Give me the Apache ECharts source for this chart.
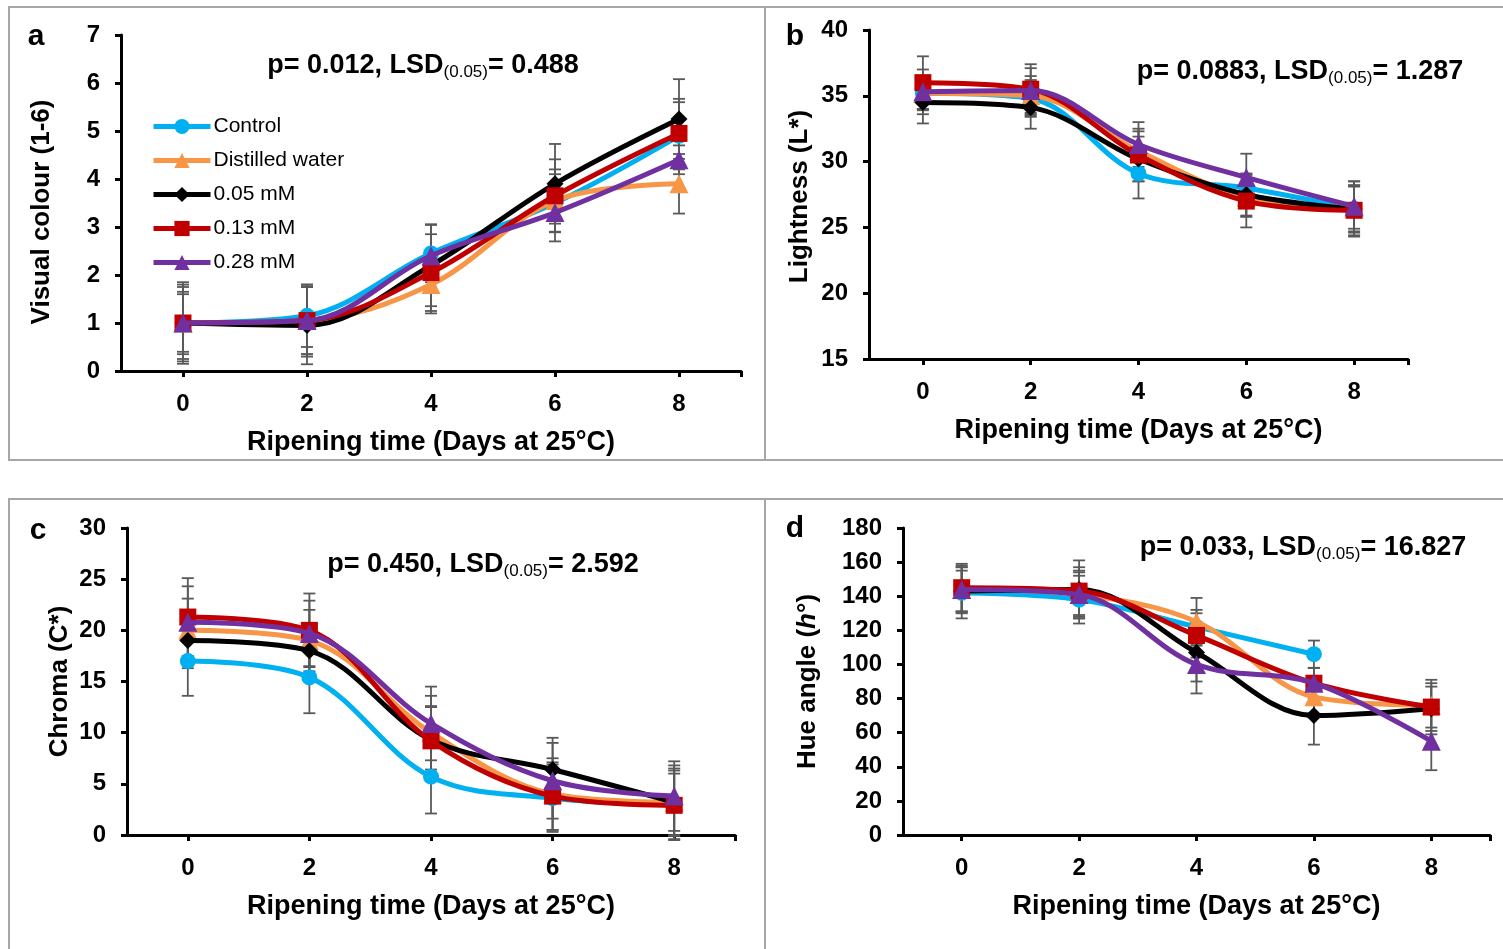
<!DOCTYPE html>
<html>
<head>
<meta charset="utf-8">
<script src="https://cdn.jsdelivr.net/npm/echarts@6/dist/echarts.min.js"></script>
<style>
  html, body { margin: 0; padding: 0; background: #ffffff; }
  #chart { width: 1503px; height: 949px; }
</style>
</head>
<body>
<div id="chart"></div>
<script>
// Ripening days (x positions) and treatment names
const days = [0, 2, 4, 6, 8];
const treatments = ['Control', 'Distilled water', '0.05 mM', '0.13 mM', '0.28 mM'];

// (a) Visual colour score (1-6): means and error half-widths
const colourControl = [1.0, 1.15, 2.45, 3.5, 4.9];
const colourWater   = [1.0, 1.05, 1.8, 3.55, 3.9];
const colour005     = [1.0, 0.95, 2.2, 3.9, 5.25];
const colour013     = [1.0, 1.05, 2.05, 3.65, 4.95];
const colour028     = [1.0, 1.05, 2.4, 3.3, 4.4];
const colourErrControl = [0.8, 0.65, 0.6, 0.6, 0.7];
const colourErrWater   = [0.85, 0.7, 0.6, 0.65, 0.62];
const colourErr005     = [0.6, 0.81, 0.85, 0.83, 0.83];
const colourErr013     = [0.65, 0.7, 0.8, 0.76, 0.72];
const colourErr028     = [0.75, 0.75, 0.65, 0.6, 0.3];

// (b) Lightness L*
const lightControl = [35.2, 34.8, 29.1, 28.0, 26.4];
const lightWater   = [35.2, 35.0, 30.8, 27.3, 26.5];
const light005     = [34.5, 34.1, 30.2, 27.5, 26.4];
const light013     = [36.0, 35.5, 30.5, 27.0, 26.3];
const light028     = [35.3, 35.4, 31.3, 28.8, 26.6];
const lightErrControl = [1.2, 1.4, 1.9, 1.0, 1.8];
const lightErrWater   = [1.3, 1.5, 1.5, 1.5, 1.6];
const lightErr005     = [1.6, 1.6, 1.7, 1.6, 2.1];
const lightErr013     = [2.0, 1.9, 2.0, 2.0, 1.9];
const lightErr028     = [1.7, 1.7, 1.7, 1.8, 1.9];

// (c) Chroma C*
const chromaControl = [17.0, 15.4, 5.7, 3.6, 3.0];
const chromaWater   = [20.0, 19.0, 10.0, 4.0, 3.2];
const chroma005     = [19.0, 18.0, 9.3, 6.4, 3.2];
const chroma013     = [21.3, 20.0, 9.2, 3.8, 2.9];
const chroma028     = [20.8, 19.7, 10.9, 5.3, 3.8];
const chromaErrControl = [3.4, 3.5, 3.6, 3.3, 3.0];
const chromaErrWater   = [3.1, 3.0, 3.6, 3.5, 3.3];
const chromaErr005     = [2.7, 2.5, 3.2, 3.1, 3.6];
const chromaErr013     = [3.8, 3.6, 3.4, 3.3, 3.4];
const chromaErr028     = [3.5, 3.2, 3.6, 3.7, 3.4];

// (d) Hue angle h°
const hueControl = [142, 138, 122, 106, null];
const hueWater   = [144, 141, 125, 81, 76];
const hue005     = [143, 144, 107, 70, 74];
const hue013     = [145, 143, 117, 89, 75];
const hue028     = [144, 141, 100, 89, 55];
const hueErrControl = [15, 14, 10, 8, null];
const hueErrWater   = [14, 14, 14, 10, 13];
const hueErr005     = [12, 17, 17, 17, 13];
const hueErr013     = [14, 14, 13, 9, 16];
const hueErr028     = [13, 13, 17, 9, 17];

// Panel statistics text
const statsA = ['0.012', '0.488'];
const statsB = ['0.0883', '1.287'];
const statsC = ['0.450', '2.592'];
const statsD = ['0.033', '16.827'];

const FONT = '"Liberation Sans", Arial, sans-serif';
const styles = [
  { color: '#00B0F0', symbol: 'circle',   size: 16 },
  { color: '#F79646', symbol: 'triangle', size: 19 },
  { color: '#000000', symbol: 'diamond',  size: 17 },
  { color: '#C00000', symbol: 'rect',     size: 17 },
  { color: '#7030A0', symbol: 'triangle', size: 19 }
];

const panels = [
  { letter: 'a', means: [colourControl, colourWater, colour005, colour013, colour028],
    errs: [colourErrControl, colourErrWater, colourErr005, colourErr013, colourErr028],
    grid: { left: 121, top: 35, width: 620, height: 336 },
    y: { min: 0, max: 7, interval: 1 }, yName: 'Visual colour (1-6)', yNameGap: 66, yNameShift: 18,
    stats: statsA, statsPos: [423, 66], letterPos: [36, 37] },
  { letter: 'b', means: [lightControl, lightWater, light005, light013, light028],
    errs: [lightErrControl, lightErrWater, lightErr005, lightErr013, lightErr028],
    grid: { left: 869, top: 30, width: 539, height: 329 },
    y: { min: 15, max: 40, interval: 5 }, yName: 'Lightness (L*)', yNameGap: 56, yNameShift: 4,
    stats: statsB, statsPos: [1300, 72], letterPos: [795, 37] },
  { letter: 'c', means: [chromaControl, chromaWater, chroma005, chroma013, chroma028],
    errs: [chromaErrControl, chromaErrWater, chromaErr005, chromaErr013, chromaErr028],
    grid: { left: 127, top: 528, width: 608, height: 307 },
    y: { min: 0, max: 30, interval: 5 }, yName: 'Chroma (C*)', yNameGap: 54, yNameShift: 0,
    stats: statsC, statsPos: [483, 565], letterPos: [38, 531] },
  { letter: 'd', means: [hueControl, hueWater, hue005, hue013, hue028],
    errs: [hueErrControl, hueErrWater, hueErr005, hueErr013, hueErr028],
    grid: { left: 903, top: 528, width: 587, height: 307 },
    y: { min: 0, max: 180, interval: 20 }, yName: '{b|Hue angle (}{i|h}{b|°)}', yNameGap: 82, yNameShift: 0,
    stats: statsD, statsPos: [1303, 548], letterPos: [795, 529] }
];

function errorBar(params, api) {
  const x = api.value(0);
  const top = api.coord([x, api.value(2)]);
  const bot = api.coord([x, api.value(1)]);
  const w = 6;
  const st = { stroke: '#595959', lineWidth: 1.8 };
  return {
    type: 'group',
    children: [
      { type: 'line', shape: { x1: top[0], y1: top[1], x2: bot[0], y2: bot[1] }, style: st },
      { type: 'line', shape: { x1: top[0] - w, y1: top[1], x2: top[0] + w, y2: top[1] }, style: st },
      { type: 'line', shape: { x1: bot[0] - w, y1: bot[1], x2: bot[0] + w, y2: bot[1] }, style: st }
    ]
  };
}

const grids = [], xAxes = [], yAxes = [], series = [], graphics = [];

panels.forEach((p, gi) => {
  grids.push(p.grid);
  xAxes.push({
    type: 'value', gridIndex: gi, min: -1, max: 9,
    axisLine: { show: true, onZero: false, lineStyle: { color: '#000', width: 3 } },
    axisTick: { show: true, length: 6, lineStyle: { color: '#000', width: 3 }, customValues: [0, 2, 4, 6, 8, 9] },
    axisLabel: { customValues: days, margin: 21, color: '#000', fontSize: 24, fontWeight: 'bold', fontFamily: FONT },
    splitLine: { show: false },
    name: 'Ripening time (Days at 25°C)', nameLocation: 'middle', nameGap: 58,
    nameTextStyle: { color: '#000', fontSize: 27, fontWeight: 'bold', fontFamily: FONT }
  });
  yAxes.push({
    type: 'value', gridIndex: gi, min: p.y.min, max: p.y.max, interval: p.y.interval,
    axisLine: { show: true, onZero: false, lineStyle: { color: '#000', width: 3 } },
    axisTick: { show: true, length: 6, lineStyle: { color: '#000', width: 3 } },
    axisLabel: { margin: 21, color: '#000', fontSize: 24, fontWeight: 'bold', fontFamily: FONT },
    splitLine: { show: false },
    name: p.yName, nameLocation: 'middle', nameGap: p.yNameGap, nameRotate: 90,
    nameTextStyle: {
      color: '#000', fontSize: 26, fontWeight: 'bold', fontFamily: FONT,
      padding: [0, p.yNameShift, 0, 0],
      rich: {
        b: { color: '#000', fontSize: 26, fontWeight: 'bold', fontFamily: FONT },
        i: { color: '#000', fontSize: 26, fontWeight: 'bold', fontStyle: 'italic', fontFamily: FONT }
      }
    }
  });

  treatments.forEach((name, si) => {
    const bars = [];
    days.forEach((d, k) => {
      const m = p.means[si][k], e = p.errs[si][k];
      if (m != null && e != null) bars.push([d, m - e, m + e]);
    });
    series.push({
      type: 'custom', name: name + ' error', xAxisIndex: gi, yAxisIndex: gi,
      renderItem: errorBar, data: bars, encode: { x: 0, y: [1, 2] }, z: 1, silent: true
    });
  });
  treatments.forEach((name, si) => {
    const st = styles[si];
    series.push({
      type: 'line', name: name, xAxisIndex: gi, yAxisIndex: gi, smooth: 0.35,
      data: days.map((d, k) => [d, p.means[si][k]]),
      symbol: st.symbol, symbolSize: st.size, showSymbol: true,
      connectNulls: false,
      lineStyle: { color: st.color, width: 5 },
      itemStyle: { color: st.color },
      z: 3 + si, animation: false
    });
  });

  graphics.push({
    type: 'text', x: p.letterPos[0], y: p.letterPos[1],
    style: { text: p.letter, font: 'bold 30px ' + FONT, fill: '#000', align: 'center', verticalAlign: 'middle', textAlign: 'center', textVerticalAlign: 'middle' }
  });
  graphics.push({
    type: 'text', x: p.statsPos[0], y: p.statsPos[1],
    style: {
      text: '{b|p= ' + p.stats[0] + ', LSD}{s|(0.05)}{b|= ' + p.stats[1] + '}',
      align: 'center', verticalAlign: 'middle', textAlign: 'center', textVerticalAlign: 'middle',
      rich: {
        b: { fontSize: 27, fontWeight: 'bold', fontFamily: FONT, fill: '#000', color: '#000' },
        s: { fontSize: 17, fontWeight: 'normal', fontFamily: FONT, fill: '#000', color: '#000', padding: [13, 0, 0, 0] }
      }
    }
  });
});

// panel frames
const frame = { stroke: '#a6a6a6', lineWidth: 2, fill: null };
graphics.push(
  { type: 'polyline', shape: { points: [[1510, 7], [9, 7], [9, 460], [1510, 460]] }, style: frame, silent: true },
  { type: 'line', shape: { x1: 765, y1: 7, x2: 765, y2: 460 }, style: frame, silent: true },
  { type: 'polyline', shape: { points: [[1510, 499], [9, 499], [9, 960]] }, style: frame, silent: true },
  { type: 'line', shape: { x1: 765, y1: 499, x2: 765, y2: 960 }, style: frame, silent: true }
);

const chart = echarts.init(document.getElementById('chart'), null, { renderer: 'canvas' });
chart.setOption({
  animation: false,
  backgroundColor: '#ffffff',
  grid: grids,
  xAxis: xAxes,
  yAxis: yAxes,
  legend: {
    data: treatments, orient: 'vertical', left: 146, top: 111,
    itemWidth: 57, itemHeight: 19, itemGap: 13,
    lineStyle: { width: 5 },
    textStyle: { color: '#000', fontSize: 21, fontFamily: FONT, padding: [0, 0, 0, -2] }
  },
  graphic: graphics,
  series: series
});
</script>
</body>
</html>
